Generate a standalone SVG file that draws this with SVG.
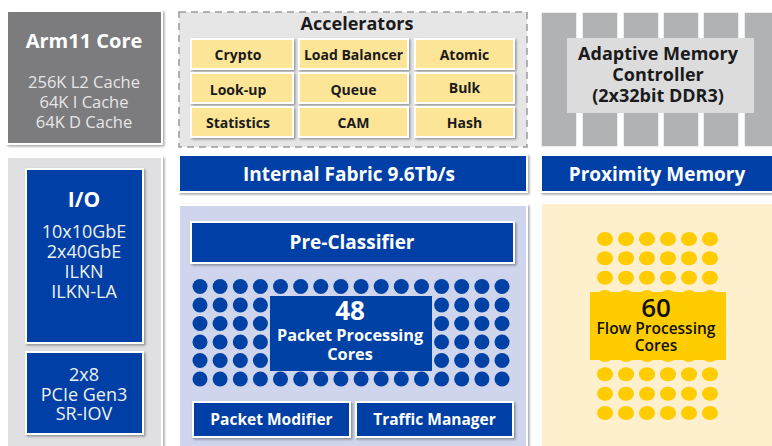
<svg xmlns="http://www.w3.org/2000/svg" width="772" height="446" viewBox="0 0 772 446">
<defs>
<filter id="sh" x="-10%" y="-10%" width="130%" height="130%">
<feDropShadow dx="1.5" dy="1.5" stdDeviation="1" flood-color="#000" flood-opacity="0.35"/>
</filter>
<style>
text{font-family:"Open Sans","Noto Sans","Liberation Sans",sans-serif;text-anchor:middle}
.b{font-weight:700}
.blue{fill:#0041a6;stroke:#fff;stroke-width:2;filter:url(#sh)}
.wt{fill:#fff;font-size:19px;font-weight:700}
.ws{fill:#fff;font-size:15.5px;font-weight:700}
.wl{fill:#f0f0f0;font-size:18px}
.acc{fill:#fde598;stroke:#fff;stroke-width:2;filter:url(#sh)}
.at{fill:#1a1a1a;font-size:14px;font-weight:700}
.col{fill:#b1b2b4;stroke:#fff;stroke-width:1.5}
.bd{fill:#0041a6}
.yd{fill:#ffcc00}
</style>
<g id="prow" class="bd">
<circle cx="200" cy="0" r="7.5"/><circle cx="220.1" cy="0" r="7.5"/><circle cx="240.3" cy="0" r="7.5"/><circle cx="260.4" cy="0" r="7.5"/>
<circle cx="280.5" cy="0" r="7.5"/><circle cx="300.7" cy="0" r="7.5"/><circle cx="320.8" cy="0" r="7.5"/><circle cx="340.9" cy="0" r="7.5"/>
<circle cx="361.1" cy="0" r="7.5"/><circle cx="381.2" cy="0" r="7.5"/><circle cx="401.3" cy="0" r="7.5"/><circle cx="421.5" cy="0" r="7.5"/>
<circle cx="441.6" cy="0" r="7.5"/><circle cx="461.7" cy="0" r="7.5"/><circle cx="481.9" cy="0" r="7.5"/><circle cx="502" cy="0" r="7.5"/>
</g>
<g id="frow" class="yd">
<ellipse cx="605" cy="0" rx="8" ry="7"/><ellipse cx="626" cy="0" rx="8" ry="7"/><ellipse cx="647" cy="0" rx="8" ry="7"/>
<ellipse cx="668" cy="0" rx="8" ry="7"/><ellipse cx="689" cy="0" rx="8" ry="7"/><ellipse cx="710" cy="0" rx="8" ry="7"/>
</g>
</defs>
<rect width="772" height="446" fill="#fff"/>

<g id="arm11">
<rect x="7" y="11" width="155" height="133" fill="#7b7c7e" stroke="#fff" stroke-width="2" filter="url(#sh)"/>
<text x="84" y="48" class="b" font-size="20" fill="#fff">Arm11 Core</text>
<text x="84" y="88" font-size="16.5" fill="#e6e6e6">256K L2 Cache</text>
<text x="84" y="108" font-size="16.5" fill="#e6e6e6">64K I Cache</text>
<text x="84" y="128" font-size="16.5" fill="#e6e6e6">64K D Cache</text>
</g>

<g id="accelerators">
<rect x="179" y="12" width="348" height="135" fill="#e6e6e7" stroke="#9a9a9a" stroke-width="1.5" stroke-dasharray="7,5"/>
<text x="357" y="29.5" class="b" font-size="18" fill="#1a1a1a">Accelerators</text>
<g id="acc-crypto"><rect x="191" y="39" width="102" height="30" class="acc"/><text x="238" y="60" class="at">Crypto</text></g>
<g id="acc-lb"><rect x="299" y="39" width="109" height="30" class="acc"/><text x="353.5" y="60" class="at">Load Balancer</text></g>
<g id="acc-atomic"><rect x="415" y="39" width="99" height="30" class="acc"/><text x="464.5" y="60" class="at">Atomic</text></g>
<g id="acc-lookup"><rect x="191" y="73" width="102" height="30" class="acc"/><text x="238" y="95" class="at">Look-up</text></g>
<g id="acc-queue"><rect x="299" y="73" width="109" height="30" class="acc"/><text x="353.5" y="95" class="at">Queue</text></g>
<g id="acc-bulk"><rect x="415" y="73" width="99" height="30" class="acc"/><text x="464.5" y="93" class="at">Bulk</text></g>
<g id="acc-stats"><rect x="191" y="107" width="102" height="30" class="acc"/><text x="238" y="128" class="at">Statistics</text></g>
<g id="acc-cam"><rect x="299" y="107" width="109" height="30" class="acc"/><text x="353.5" y="128" class="at">CAM</text></g>
<g id="acc-hash"><rect x="415" y="107" width="99" height="30" class="acc"/><text x="464.5" y="128" class="at">Hash</text></g>
</g>

<g id="memory-controller">
<rect x="541" y="12" width="36" height="135" class="col"/>
<rect x="582" y="12" width="36" height="135" class="col"/>
<rect x="623" y="12" width="36" height="135" class="col"/>
<rect x="663" y="12" width="36" height="135" class="col"/>
<rect x="703" y="12" width="36" height="135" class="col"/>
<rect x="744" y="12" width="36" height="135" class="col"/>
<rect x="567" y="38" width="187" height="75" fill="#dcdcdd"/>
<text x="658" y="60" class="b" font-size="18" fill="#1a1a1a">Adaptive Memory</text>
<text x="658" y="81" class="b" font-size="18" fill="#1a1a1a">Controller</text>
<text x="658" y="102" class="b" font-size="18" fill="#1a1a1a">(2x32bit DDR3)</text>
</g>

<g id="internal-fabric">
<rect x="179" y="155" width="348" height="37" class="blue"/>
<text x="349" y="180.5" class="wt">Internal Fabric 9.6Tb/s</text>
</g>

<g id="proximity-memory">
<rect x="541" y="155" width="240" height="37" class="blue"/>
<text x="657" y="181" class="wt">Proximity Memory</text>
</g>

<g id="io-panel">
<rect x="7" y="157" width="155" height="295" fill="#e0e0e2" stroke="#fff" stroke-width="2" filter="url(#sh)"/>
<g id="io">
<rect x="26" y="169" width="117" height="174" class="blue"/>
<text x="84" y="207" class="b" font-size="21" fill="#fff">I/O</text>
<text x="84" y="238" class="wl">10x10GbE</text>
<text x="84" y="258" class="wl">2x40GbE</text>
<text x="84" y="278" class="wl">ILKN</text>
<text x="84" y="298" class="wl">ILKN-LA</text>
</g>
<g id="pcie">
<rect x="26" y="352" width="117" height="82" class="blue"/>
<text x="84" y="381" class="wl">2x8</text>
<text x="84" y="401" class="wl">PCIe Gen3</text>
<text x="84" y="420" class="wl">SR-IOV</text>
</g>
</g>

<g id="packet-panel">
<rect x="179" y="205" width="348" height="250" fill="#ced5ec" stroke="#fff" stroke-width="2" filter="url(#sh)"/>
<g id="pre-classifier">
<rect x="191" y="222" width="323" height="41" class="blue"/>
<text x="352" y="248.5" class="wt">Pre-Classifier</text>
</g>
<g id="packet-dots">
<use href="#prow" x="0" y="286.5"/>
<use href="#prow" x="0" y="305"/>
<use href="#prow" x="0" y="323.5"/>
<use href="#prow" x="0" y="342"/>
<use href="#prow" x="0" y="360.5"/>
<use href="#prow" x="0" y="379"/>
</g>
<g id="packet-cores">
<rect x="270" y="296" width="162" height="75" fill="#0041a6"/>
<text x="350" y="320" class="b" font-size="26" fill="#fff">48</text>
<text x="350" y="341" class="b" font-size="16.3" fill="#fff">Packet Processing</text>
<text x="350" y="360" class="b" font-size="16.3" fill="#fff">Cores</text>
</g>
<g id="packet-modifier">
<rect x="193" y="402" width="157" height="35" class="blue"/>
<text x="271.5" y="425" class="ws">Packet Modifier</text>
</g>
<g id="traffic-manager">
<rect x="356" y="402" width="157" height="35" class="blue"/>
<text x="434.5" y="425" class="ws">Traffic Manager</text>
</g>
</g>

<g id="flow-panel">
<rect x="541" y="203" width="240" height="252" fill="#fff0cd" stroke="#fff" stroke-width="2" filter="url(#sh)"/>
<g id="flow-dots">
<use href="#frow" x="0" y="239"/>
<use href="#frow" x="0" y="258.3"/>
<use href="#frow" x="0" y="277.7"/>
<use href="#frow" x="0" y="297"/>
<use href="#frow" x="0" y="316.3"/>
<use href="#frow" x="0" y="335.7"/>
<use href="#frow" x="0" y="355"/>
<use href="#frow" x="0" y="374.3"/>
<use href="#frow" x="0" y="393.7"/>
<use href="#frow" x="0" y="413"/>
</g>
<g id="flow-cores">
<rect x="590" y="292" width="136" height="68" fill="#ffcc00"/>
<text x="656" y="317" font-size="26" font-weight="600" fill="#111">60</text>
<text x="656" y="334" font-size="15.5" font-weight="600" fill="#111">Flow Processing</text>
<text x="656" y="351" font-size="15.5" font-weight="600" fill="#111">Cores</text>
</g>
</g>
</svg>
